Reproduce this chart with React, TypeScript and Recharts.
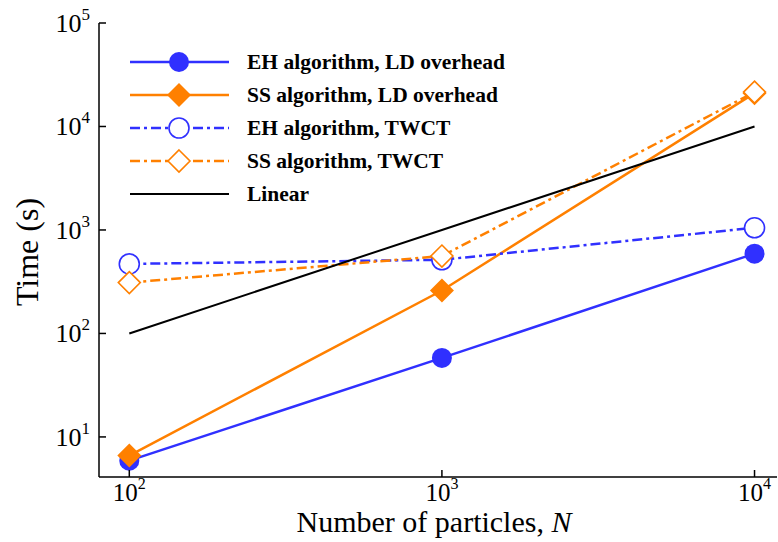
import React from 'react';
import { LineChart, Line, XAxis, YAxis } from 'recharts';

const N_VALUES = [100, 1000, 10000];
const EH_LD = [5.9, 58, 590];
const SS_LD = [6.6, 260, 21000];
const EH_TWCT = [470, 515, 1050];
const SS_TWCT = [310, 560, 21500];
const LINEAR = [100, 1000, 10000];

const X_TICKS = [100, 1000, 10000];
const Y_TICKS = [10, 100, 1000, 10000, 100000];

const BLUE = '#3030ff';
const ORANGE = '#ff8000';
const FONT = "'Liberation Serif', 'Times New Roman', serif";

const W = 778;
const H = 542;
const LEFT = 99;
const TOP = 23;
const RIGHT = 777;
const BOTTOM = 477;

const data = N_VALUES.map((n, i) => ({
  n,
  ehLd: EH_LD[i],
  ssLd: SS_LD[i],
  ehTw: EH_TWCT[i],
  ssTw: SS_TWCT[i],
  linear: LINEAR[i],
}));

const DASH_DOT = '10 4 3 4';

type MarkerKind = 'circle' | 'diamond' | 'openCircle' | 'openDiamond' | 'none';

function Marker({ kind, cx, cy, color }: { kind: MarkerKind; cx: number; cy: number; color: string }) {
  if (kind === 'circle') return <circle cx={cx} cy={cy} r={10} fill={color} />;
  if (kind === 'openCircle')
    return <circle cx={cx} cy={cy} r={10} fill='#fff' stroke={color} strokeWidth={1.6} />;
  if (kind === 'diamond') {
    const s = 12;
    return <polygon points={`${cx},${cy - s} ${cx + s},${cy} ${cx},${cy + s} ${cx - s},${cy}`} fill={color} />;
  }
  if (kind === 'openDiamond') {
    const s = 11;
    return (
      <polygon
        points={`${cx},${cy - s} ${cx + s},${cy} ${cx},${cy + s} ${cx - s},${cy}`}
        fill='#fff'
        stroke={color}
        strokeWidth={1.6}
      />
    );
  }
  return null;
}

const SERIES: { key: string; name: string; color: string; dash?: string; marker: MarkerKind; width: number }[] = [
  { key: 'ehLd', name: 'EH algorithm, LD overhead', color: BLUE, marker: 'circle', width: 2.5 },
  { key: 'ssLd', name: 'SS algorithm, LD overhead', color: ORANGE, marker: 'diamond', width: 2.5 },
  { key: 'ehTw', name: 'EH algorithm, TWCT', color: BLUE, dash: DASH_DOT, marker: 'openCircle', width: 2.5 },
  { key: 'ssTw', name: 'SS algorithm, TWCT', color: ORANGE, dash: DASH_DOT, marker: 'openDiamond', width: 2.5 },
  { key: 'linear', name: 'Linear', color: '#000', marker: 'none', width: 2 },
];

// legend drawn as an overlay so it doesn't steal plot space
function LegendBox() {
  return (
    <svg
      width={560}
      height={220}
      style={{ position: 'absolute', left: 0, top: 0, pointerEvents: 'none' }}
    >
      {SERIES.map((s, i) => {
        const y = 62 + i * 33;
        return (
          <g key={s.key}>
            <line x1={130} x2={229} y1={y} y2={y} stroke={s.color} strokeWidth={s.width} strokeDasharray={s.dash} />
            <Marker kind={s.marker} cx={179} cy={y} color={s.color} />
            <text x={247} y={y + 7} fontFamily={FONT} fontWeight='bold' fontSize={21.5} fill='#000'>
              {s.name}
            </text>
          </g>
        );
      })}
    </svg>
  );
}

const exp = (v: number) => Math.round(Math.log10(v));

function BottomTick(props: any) {
  const x = props.payload.coordinate;
  return (
    <g>
      <line x1={x} x2={x} y1={BOTTOM} y2={BOTTOM - 7} stroke='#000' strokeWidth={1.5} />
      <text x={x} y={501} textAnchor='middle' fontFamily={FONT} fontSize={25} fill='#000'>
        <tspan>10</tspan>
        <tspan dy={-12} fontSize={16}>{exp(props.payload.value)}</tspan>
      </text>
    </g>
  );
}

function TopTick(props: any) {
  const x = props.payload.coordinate;
  return <line x1={x} x2={x} y1={TOP} y2={TOP + 7} stroke='#000' strokeWidth={1.5} />;
}

function LeftTick(props: any) {
  const y = props.payload.coordinate;
  return (
    <g>
      <line x1={LEFT} x2={LEFT + 7} y1={y} y2={y} stroke='#000' strokeWidth={1.5} />
      <text x={90} y={y + 9} textAnchor='end' fontFamily={FONT} fontSize={26} fill='#000'>
        <tspan>10</tspan>
        <tspan dy={-12} fontSize={17}>{exp(props.payload.value)}</tspan>
      </text>
    </g>
  );
}

function RightTick(props: any) {
  const y = props.payload.coordinate;
  return <line x1={RIGHT} x2={RIGHT - 7} y1={y} y2={y} stroke='#000' strokeWidth={1.5} />;
}

export default function App() {
  return (
    <div style={{ position: 'absolute', left: 0, top: 0, width: W, height: H, background: '#fff' }}>
      <LineChart
        width={W}
        height={H}
        data={data}
        margin={{ top: TOP, right: W - RIGHT, bottom: 0, left: 0 }}
        style={{ fontFamily: FONT }}
      >
        <XAxis
          xAxisId='bottom'
          dataKey='n'
          type='number'
          scale='log'
          domain={[80, 11800]}
          allowDataOverflow
          ticks={X_TICKS}
          interval={0}
          height={H - BOTTOM}
          axisLine={{ stroke: '#000', strokeWidth: 1.5 }}
          tickLine={false}
          tick={<BottomTick />}
          label={() => (
            <text x={434} y={532} textAnchor='middle' fontFamily={FONT} fontSize={30} fill='#000'>
              Number of particles, <tspan fontStyle='italic'>N</tspan>
            </text>
          )}
        />
        <XAxis
          xAxisId='top'
          orientation='top'
          dataKey='n'
          type='number'
          scale='log'
          domain={[80, 11800]}
          allowDataOverflow
          ticks={X_TICKS}
          interval={0}
          height={0}
          axisLine={{ stroke: '#000', strokeWidth: 1.5 }}
          tickLine={false}
          tick={<TopTick />}
        />
        <YAxis
          yAxisId='left'
          type='number'
          scale='log'
          domain={[4.1, 100000]}
          allowDataOverflow
          ticks={Y_TICKS}
          interval={0}
          width={LEFT}
          axisLine={{ stroke: '#000', strokeWidth: 1.5 }}
          tickLine={false}
          tick={<LeftTick />}
          label={() => (
            <text
              x={0}
              y={0}
              transform='translate(38, 252) rotate(-90)'
              textAnchor='middle'
              fontFamily={FONT}
              fontSize={32}
              fill='#000'
            >
              Time (s)
            </text>
          )}
        />
        <YAxis
          yAxisId='right'
          orientation='right'
          type='number'
          scale='log'
          domain={[4.1, 100000]}
          allowDataOverflow
          ticks={Y_TICKS}
          interval={0}
          width={0}
          axisLine={{ stroke: '#000', strokeWidth: 1.5 }}
          tickLine={false}
          tick={<RightTick />}
        />
        {SERIES.map((s) => (
          <Line
            key={s.key}
            xAxisId='bottom'
            yAxisId='left'
            dataKey={s.key}
            name={s.name}
            type='linear'
            stroke={s.color}
            strokeWidth={s.width}
            strokeDasharray={s.dash}
            isAnimationActive={false}
            dot={(p: any) => (
              <Marker key={`${s.key}-${p.index}`} kind={s.marker} cx={p.cx} cy={p.cy} color={s.color} />
            )}
            activeDot={false}
          />
        ))}
      </LineChart>
      <LegendBox />
    </div>
  );
}
